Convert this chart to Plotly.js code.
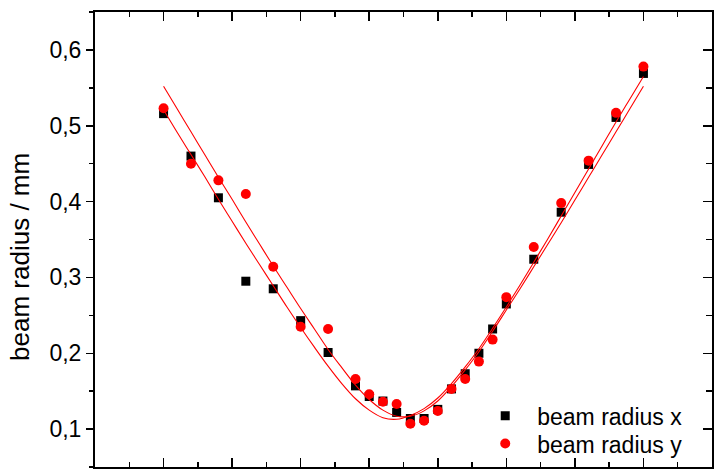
<!DOCTYPE html>
<html>
<head>
<meta charset="utf-8">
<script src="https://cdn.plot.ly/plotly-3.0.1.min.js"></script>
<style>html,body{margin:0;padding:0;background:#fff;}#chart{width:721px;height:469px;}</style>
</head>
<body>
<div id="chart"></div>
<script>
// measurement positions (arbitrary units along beam path)
const positions = [0,2,4,6,8,10,12,14,15,16,17,18,19,20,21,22,23,24,25,27,29,31,33,35];
const radiusX = [0.516,0.460,0.405,0.295,0.285,0.243,0.201,0.157,0.143,0.137,0.122,0.114,0.114,0.126,0.153,0.173,0.200,0.232,0.265,0.324,0.386,0.449,0.511,0.569];
const radiusY = [0.523,0.450,0.428,0.410,0.314,0.235,0.232,0.166,0.146,0.136,0.133,0.107,0.111,0.124,0.153,0.166,0.189,0.218,0.274,0.340,0.398,0.454,0.517,0.578];

// fit curves
const fitPos = [0,1,2,3,4,5,6,7,8,9,10,11,12,13,14,15,16,17,18,19,20,21,22,23,24,25,26,27,28,29,30,31,32,33,34,35];
const fitX = [0.521,0.491,0.462,0.433,0.403,0.374,0.345,0.317,0.289,0.261,0.234,0.208,0.183,0.160,0.140,0.125,0.115,0.113,0.118,0.127,0.141,0.160,0.182,0.206,0.233,0.261,0.290,0.320,0.350,0.381,0.412,0.443,0.474,0.505,0.535,0.565];
const fitY = [0.552,0.522,0.492,0.462,0.432,0.403,0.373,0.344,0.315,0.287,0.259,0.232,0.205,0.181,0.158,0.139,0.125,0.117,0.117,0.124,0.137,0.156,0.178,0.202,0.229,0.257,0.285,0.314,0.343,0.372,0.402,0.432,0.462,0.492,0.522,0.552];

const seriesNames = ['beam radius x', 'beam radius y'];
const yTitle = 'beam radius / mm';

const FONT = 'Liberation Sans, Arial, Helvetica, sans-serif';
const xr = [-5, 40], yr = [0.05, 0.65];

const traces = [
  {x: positions, y: radiusX, type: 'scatter', mode: 'markers', name: seriesNames[0], legend: 'legend',
   marker: {symbol: 'square', size: 9, color: '#000000'}, hoverinfo: 'x+y'},
  {x: positions, y: radiusY, type: 'scatter', mode: 'markers', name: seriesNames[1], legend: 'legend2',
   marker: {symbol: 'circle', size: 10, color: '#ff0000'}, hoverinfo: 'x+y'},
  {x: fitPos, y: fitX, type: 'scatter', mode: 'lines', showlegend: false,
   line: {color: '#ff0000', width: 1.1, shape: 'spline'}, hoverinfo: 'skip'},
  {x: fitPos, y: fitY, type: 'scatter', mode: 'lines', showlegend: false,
   line: {color: '#ff0000', width: 1.1, shape: 'spline'}, hoverinfo: 'skip'},
  {x: [], y: [], xaxis: 'x2', yaxis: 'y2', type: 'scatter', mode: 'markers', showlegend: false, hoverinfo: 'skip'}
];

const common = {showgrid: false, zeroline: false, showline: true, linecolor: '#000', linewidth: 2,
  tickcolor: '#000', tickwidth: 1.5};

const legendStyle = {xanchor: 'left', yanchor: 'top', bgcolor: 'rgba(0,0,0,0)',
  font: {family: FONT, size: 23, color: '#000'}, itemwidth: 54};

const layout = {
  width: 721, height: 469,
  margin: {l: 95, r: 9, t: 12, b: 2},
  paper_bgcolor: '#fff', plot_bgcolor: '#fff',
  separators: ',.',
  font: {family: FONT, color: '#000', size: 22},
  showlegend: true,
  legend: Object.assign({x: 0.613, y: 0.16}, legendStyle),
  legend2: Object.assign({x: 0.613, y: 0.0986}, legendStyle),
  xaxis: Object.assign({}, common, {range: xr, side: 'bottom', ticks: 'inside', ticklen: 9,
    dtick: 5, tick0: 0, showticklabels: false,
    minor: {dtick: 2.5, ticks: 'inside', ticklen: 5, tickwidth: 1.5, tickcolor: '#000', showgrid: false}}),
  xaxis2: Object.assign({}, common, {range: xr, overlaying: 'x', side: 'top', anchor: 'y', ticks: 'inside', ticklen: 9,
    dtick: 5, tick0: 0, showticklabels: false,
    minor: {dtick: 2.5, ticks: 'inside', ticklen: 5, tickwidth: 1.5, tickcolor: '#000', showgrid: false}}),
  yaxis: Object.assign({}, common, {range: yr, side: 'left', ticks: 'outside', ticklen: 7,
    dtick: 0.1, tick0: 0, tickformat: '.1f', tickfont: {family: FONT, size: 23, color: '#000'},
    minor: {dtick: 0.05, ticks: 'outside', ticklen: 4, tickwidth: 1.5, tickcolor: '#000', showgrid: false}}),
  yaxis2: Object.assign({}, common, {range: yr, overlaying: 'y', side: 'right', anchor: 'x', ticks: 'inside', ticklen: 9,
    dtick: 0.1, tick0: 0, showticklabels: false,
    minor: {dtick: 0.05, ticks: 'inside', ticklen: 6, tickwidth: 1.5, tickcolor: '#000', showgrid: false}}),
  annotations: [{text: yTitle, xref: 'paper', yref: 'paper', x: -0.1205, y: 0.461,
    xanchor: 'center', yanchor: 'middle', textangle: -90, showarrow: false,
    font: {family: FONT, size: 26, color: '#000'}}]
};

Plotly.newPlot('chart', traces, layout, {displayModeBar: false, staticPlot: true});
</script>
</body>
</html>
